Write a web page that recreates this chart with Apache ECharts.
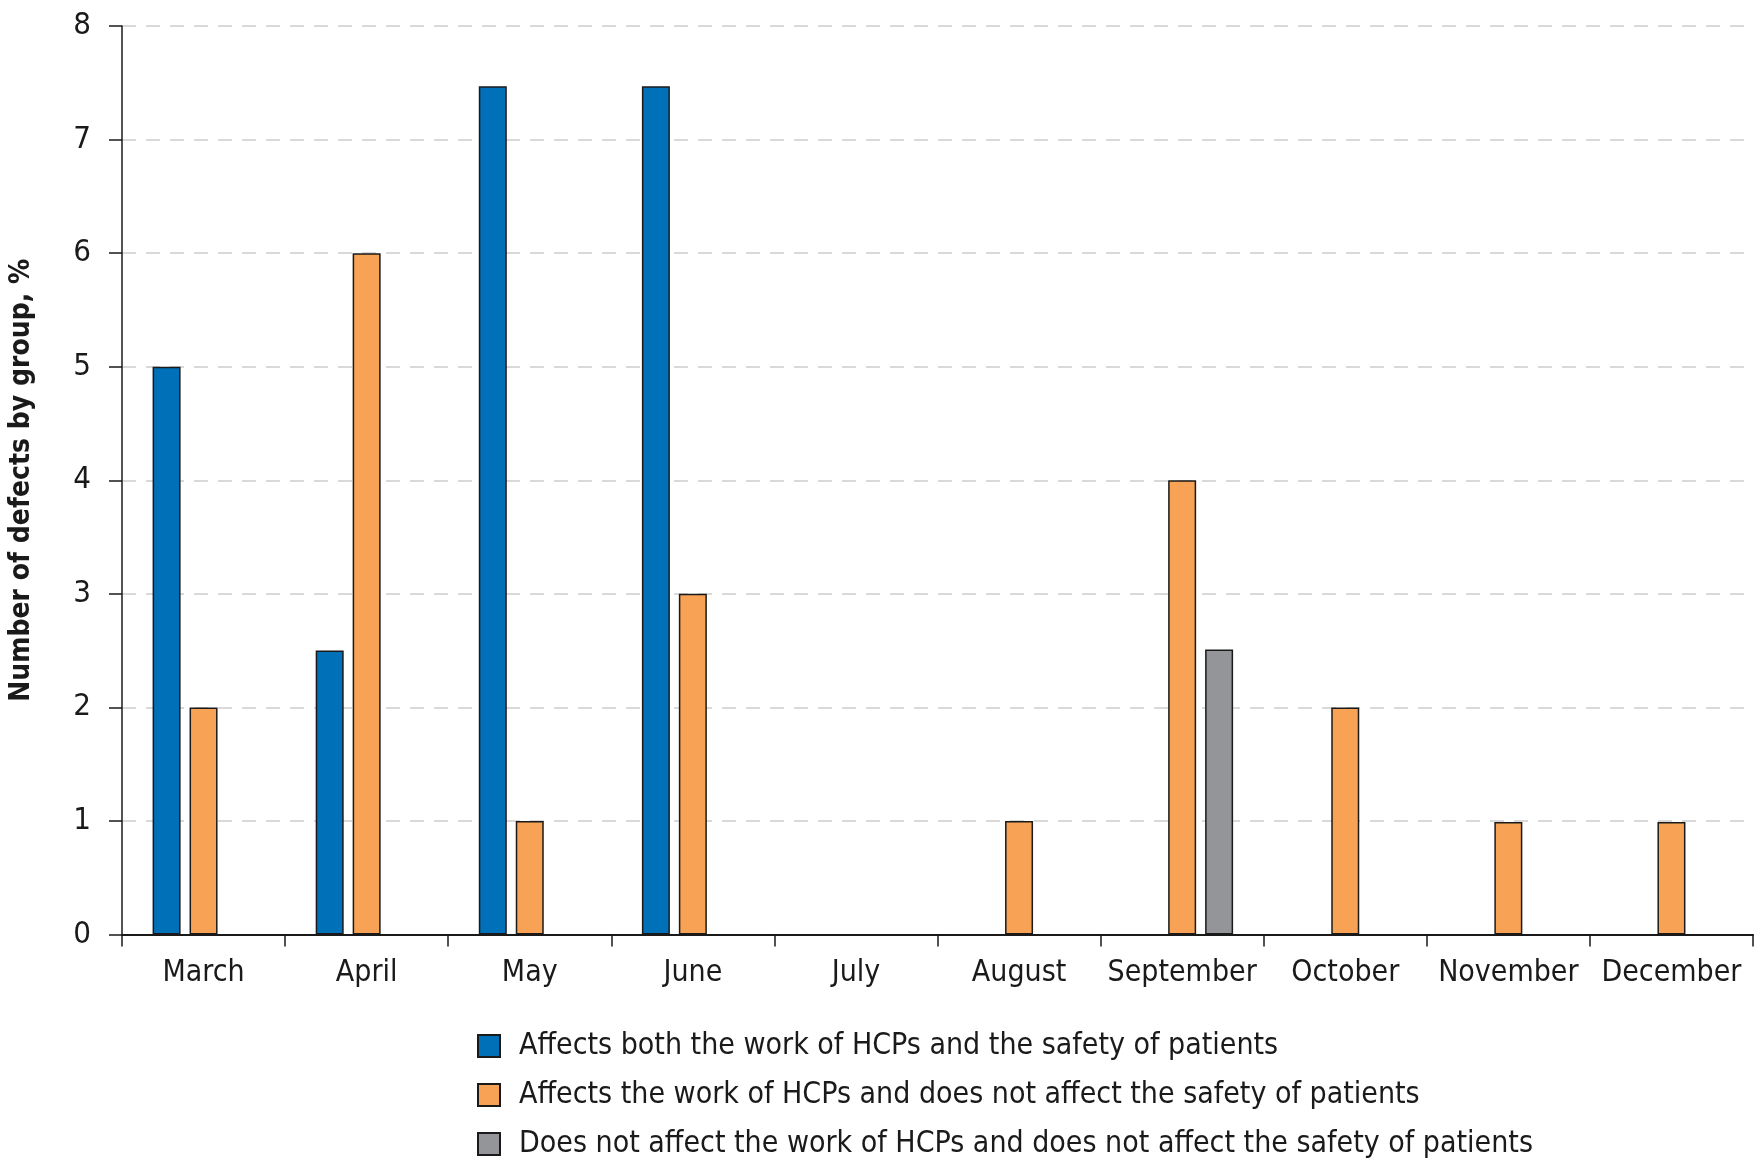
<!DOCTYPE html>
<html>
<head>
<meta charset="utf-8">
<script src="https://cdn.jsdelivr.net/npm/echarts@6/dist/echarts.min.js"></script>
<style>html,body{margin:0;padding:0;background:#fff}#c{width:1755px;height:1173px}</style>
</head>
<body>
<div id="c"></div>
<script>
const months = ['March','April','May','June','July','August','September','October','November','December'];
const seriesNames = [
  'Affects both the work of HCPs and the safety of patients',
  'Affects the work of HCPs and does not affect the safety of patients',
  'Does not affect the work of HCPs and does not affect the safety of patients'
];
const bothValues = [5, 2.5, 7.47, 7.47, null, null, null, null, null, null];
const workOnlyValues = [2, 6, 1, 3, null, 1, 4, 2, 0.99, 0.99];
const neitherValues = [null, null, null, null, null, null, 2.51, null, null, null];
const yTicks = [0, 1, 2, 3, 4, 5, 6, 7, 8];

const FONT = "'DejaVu Sans Condensed', 'Liberation Sans Narrow', sans-serif";
const colors = ['#0070b8', '#f7a254', '#939598'];
const dataSets = [bothValues, workOnlyValues, neitherValues];

const chart = echarts.init(document.getElementById('c'));
chart.setOption({
  animation: false,
  backgroundColor: '#fff',
  grid: { left: 121, right: 2, top: 26, bottom: 238.5, containLabel: false },
  legend: {
    orient: 'vertical',
    left: 472,
    top: 1026,
    itemWidth: 22,
    itemHeight: 22,
    itemGap: 19,
    icon: 'rect',
    textStyle: { fontFamily: FONT, fontSize: 30, color: '#1a1a1a', padding: [0, 0, 0, 14] },
    data: seriesNames
  },
  xAxis: {
    type: 'category',
    data: months,
    axisLine: { lineStyle: { color: '#1a1a1a', width: 2 } },
    axisTick: { show: true, length: 12, lineStyle: { color: '#1a1a1a', width: 1.5 } },
    axisLabel: { interval: 0, fontFamily: FONT, fontSize: 30, color: '#1a1a1a', margin: 24 },
    splitLine: { show: false }
  },
  yAxis: {
    type: 'value',
    min: yTicks[0],
    max: yTicks[yTicks.length - 1],
    interval: 1,
    name: 'Number of defects by group, %',
    nameLocation: 'middle',
    nameGap: 86,
    nameTextStyle: { fontFamily: FONT, fontSize: 28, fontWeight: 'bold', color: '#1a1a1a' },
    axisLine: { show: true, lineStyle: { color: '#1a1a1a', width: 1.5 } },
    axisTick: { show: true, length: 13, lineStyle: { color: '#1a1a1a', width: 1.5 } },
    axisLabel: { fontFamily: FONT, fontSize: 31, color: '#1a1a1a', margin: 31 },
    splitLine: { show: true, lineStyle: { color: '#d9d9d9', width: 2, type: [14, 10] } }
  },
  series: seriesNames.map((n, i) => ({
    name: n,
    type: 'bar',
    data: dataSets[i],
    barWidth: 28,
    barGap: '32%',
    itemStyle: { color: colors[i], borderColor: '#1a1a1a', borderWidth: 1.5 }
  }))
});
</script>
</body>
</html>
